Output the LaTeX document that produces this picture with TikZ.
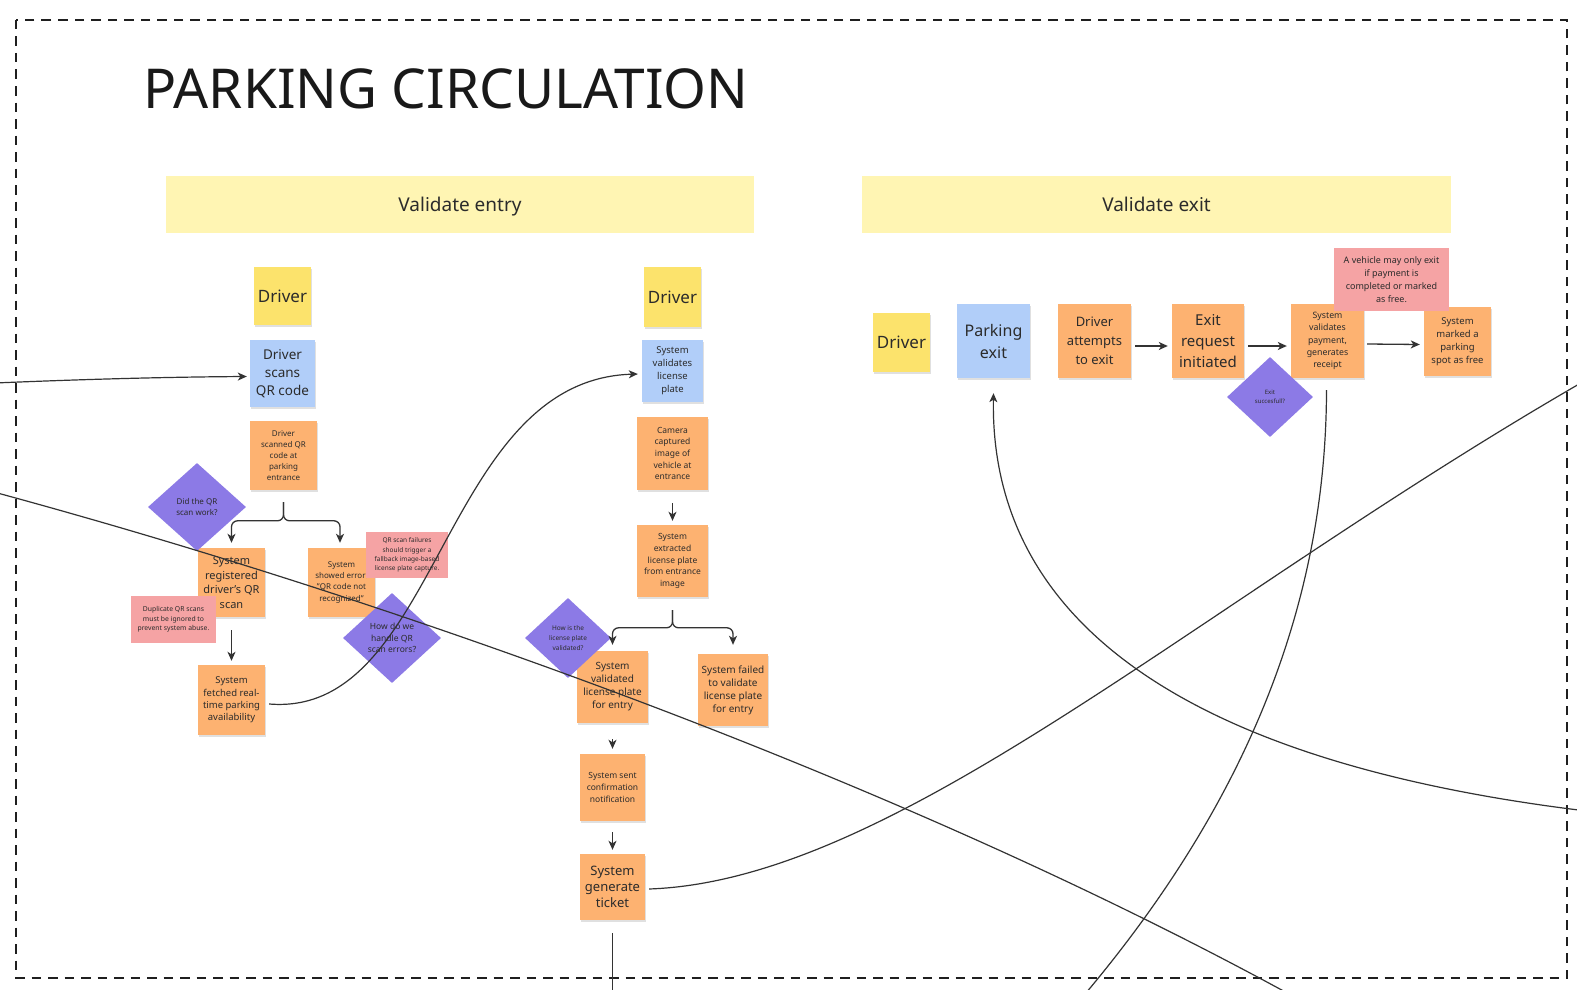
\documentclass[tikz,border=0pt]{standalone}
\usepackage{fontspec}
\setmainfont{Noto Sans}
\usetikzlibrary{arrows.meta,shapes.geometric,calc,shadows}
\definecolor{cOrange}{HTML}{FDB271}
\definecolor{cBlue}{HTML}{B1CEF9}
\definecolor{cYellow}{HTML}{FCE36C}
\definecolor{cRed}{HTML}{F5A3A4}
\definecolor{cPurple}{HTML}{8C7AE6}
\definecolor{cHeader}{HTML}{FFF5B3}
\definecolor{cText}{HTML}{2B2B2B}
\definecolor{cLine}{HTML}{333333}
\tikzset{
  sz/.style 2 args={minimum width=#1pt, minimum height=#2pt},
  fs/.style 2 args={font=\fontsize{#1}{#2}\selectfont},
  sticky/.style={rectangle, inner sep=0pt, align=center, text=cText,
    drop shadow={shadow xshift=0.5pt, shadow yshift=-2pt, opacity=0.12, fill=black}},
  orange/.style={sticky, fill=cOrange},
  blue/.style={sticky, fill=cBlue},
  yellow/.style={sticky, fill=cYellow},
  rednote/.style={rectangle, inner sep=0pt, align=center, text=cText, fill=cRed},
  dia/.style={diamond, inner sep=0pt, align=center, text=cText, fill=cPurple},
  header/.style={rectangle, inner sep=0pt, fill=cHeader, text=cText, text depth=0pt, font=\fontsize{19}{24}\selectfont},
  arr/.style={draw=cLine, line width=1.3pt, -{Stealth[length=9pt,width=8pt,inset=2.5pt]}},
  link/.style={draw=cLine, line width=1.2pt},
  linkarr/.style={link, -{Stealth[length=9pt,width=8pt,inset=2.5pt]}},
  frame/.style={draw=black!88, line width=1.8pt, dash pattern=on 9.5pt off 7pt}
}
\begin{document}
\begin{tikzpicture}[x=1pt,y=-1pt]
\useasboundingbox (0,0) rectangle (1577,990);
\fill[white] (0,0) rectangle (1577,990);
\draw[frame] (16,20) rectangle (1567,978);

\node[anchor=base west, inner sep=0pt, text=black!90, font=\fontsize{55}{62}\selectfont] (title) at (143,108) {PARKING CIRCULATION};

% headers
\node[header, sz={588}{57}] (hdrA) at (460,204.5) {Validate entry};
\node[header, sz={589}{57}] (hdrB) at (1156.5,204.5) {Validate exit};

% ---------- left column ----------
\node[yellow, sz={57}{58}, fs={17}{22}] (drvA) at (282.5,296) {Driver};
\node[blue, sz={65}{67}, fs={13.5}{18.3}] (scanQR) at (282.5,373.5) {Driver\\scans\\QR code};
\node[orange, sz={67}{69}, fs={8}{11}] (scannedQR) at (283.5,455.5) {Driver\\scanned QR\\code at\\parking\\entrance};
\node[orange, sz={67}{69}, fs={11}{14.7}] (regQR) at (231.5,582.5) {System\\registered\\driver's QR\\scan};
\node[orange, sz={67}{69}, fs={8}{11.1}] (errQR) at (341.5,582.5) {System\\showed error:\\"QR code not\\recognized"};
\node[orange, sz={67}{70}, fs={9.5}{12.4}] (fetch) at (231.5,700) {System\\fetched real-\\time parking\\availability};
\node[rednote, sz={82}{46}, fs={6.5}{9.3}] (noteFallback) at (407,555) {QR scan failures\\should trigger a\\fallback image-based\\license plate capture.};
\node[rednote, sz={85}{47}, fs={6.8}{9.6}] (noteDup) at (173.5,619.5) {Duplicate QR scans\\must be ignored to\\prevent system abuse.};
\node[dia, sz={98}{88}, fs={8}{11.7}] (didQR) at (197,507) {Did the QR\\scan work?};
\node[dia, sz={98}{90}, fs={8.5}{11.7}] (howQR) at (392,638) {How do we\\handle QR\\scan errors?};

% ---------- middle column ----------
\node[yellow, sz={57}{60}, fs={17}{22}] (drvB) at (672.5,297) {Driver};
\node[blue, sz={61}{62}, fs={9.5}{13.1}] (valPlate) at (672.5,371) {System\\validates\\license\\plate};
\node[orange, sz={71}{73}, fs={8.5}{11.7}] (camera) at (672.5,453.5) {Camera\\captured\\image of\\vehicle at\\entrance};
\node[orange, sz={71}{72}, fs={8.5}{11.8}] (extract) at (672.5,561) {System\\extracted\\license plate\\from entrance\\image};
\node[orange, sz={71}{72}, fs={10}{13}] (validated) at (612.5,687) {System\\validated\\license plate\\for entry};
\node[orange, sz={70}{72}, fs={10}{13}] (failed) at (733,690) {System failed\\to validate\\license plate\\for entry};
\node[orange, sz={65}{67}, fs={8.5}{12}] (notify) at (612.5,787.5) {System sent\\confirmation\\notification};
\node[orange, sz={65}{66}, fs={13}{16.2}] (ticket) at (612.5,887) {System\\generate\\ticket};
\node[dia, sz={86}{80}, fs={6.5}{10}] (howPlate) at (568,638) {How is the\\license plate\\validated?};

% ---------- right section ----------
\node[yellow, sz={57}{59}, fs={17}{22}] (drvC) at (901.5,342.5) {Driver};
\node[blue, sz={73}{74}, fs={16}{22}] (pexit) at (993.5,341) {Parking\\exit};
\node[orange, sz={73}{74}, fs={13}{19}] (attempt) at (1094.5,341) {Driver\\attempts\\to exit};
\node[orange, sz={72}{74}, fs={15}{21}] (request) at (1208,341) {Exit\\request\\initiated};
\node[orange, sz={73}{74}, fs={8.8}{12.3}] (payment) at (1327.5,341) {System\\validates\\payment,\\generates\\receipt};
\node[orange, sz={67}{69}, fs={9.5}{13.2}] (freeSpot) at (1457.5,341.5) {System\\marked a\\parking\\spot as free};
\node[rednote, sz={115}{63}, fs={9}{13}] (noteExit) at (1391.5,279.5) {A vehicle may only exit\\if payment is\\completed or marked\\as free.};
\node[dia, sz={86}{80}, fs={6}{9}] (exitDia) at (1270,397) {Exit\\succesfull?};

% ---------- short connectors ----------
\draw[arr, rounded corners=6pt] ($(scannedQR.south)+(0,12)$) |- ($(regQR.north)+(0,-27)$) -- ($(regQR.north)+(0,-5)$);
\draw[arr, rounded corners=6pt] ($(scannedQR.south)+(0,12)$) |- ($(errQR.north)+(-1.5,-27)$) -- ($(errQR.north)+(-1.5,-5)$);
\draw[arr] ($(regQR.south)+(0,13)$) -- ($(fetch.north)+(0,-4)$);

\draw[arr] ($(camera.south)+(0,13)$) -- ($(extract.north)+(0,-4)$);
\draw[arr, rounded corners=6pt] ($(extract.south)+(0,13)$) |- ($(validated.north)+(0,-23)$) -- ($(validated.north)+(0,-6)$);
\draw[arr, rounded corners=6pt] ($(extract.south)+(0,13)$) |- ($(failed.north)+(0,-26)$) -- ($(failed.north)+(0,-9)$);
\draw[arr] ($(validated.south)+(0,16)$) -- ($(notify.north)+(0,-5)$);
\draw[arr] ($(notify.south)+(0,11)$) -- ($(ticket.north)+(0,-4)$);

\draw[arr] ($(attempt.east)+(4,5)$) -- ($(request.west)+(-4,5)$);
\draw[arr] ($(request.east)+(4,5)$) -- ($(payment.west)+(-4,5)$);
\draw[arr] ($(payment.east)+(3,3)$) -- ($(freeSpot.west)+(-4,3)$);

% ---------- long connectors ----------
\coordinate (inL) at (-5,383);
\coordinate (diagStart) at (-10,491);
\coordinate (diagEnd) at (1300,1000);
\coordinate (ticketOut) at (1600,372);
\coordinate (payOut) at (1080,1000);
\coordinate (exitIn) at (1595,812);
\coordinate (ticketDown) at (612.5,1000);

\draw[linkarr] (inL) .. controls (90,379) and (170,377) .. ($(scanQR.west)+(-3,3)$);
\draw[linkarr] ($(fetch.east)+(4,4)$) .. controls (440,718) and (440,380) .. ($(valPlate.west)+(-4,3)$);
\draw[link] (diagStart) .. controls (390,599) and (900,780) .. (diagEnd);
\draw[link] ($(ticket.east)+(4,2)$) .. controls (900,880) and (1200,600) .. (ticketOut);
\draw[link] ($(payment.south)+(-1,12)$) .. controls (1326,600) and (1250,800) .. (payOut);
\draw[linkarr] (exitIn) .. controls (1150,760) and (990,600) .. ($(pexit.south)+(0,15)$);
\draw[link] ($(ticket.south)+(0,13)$) -- (ticketDown);
\end{tikzpicture}
\end{document}
